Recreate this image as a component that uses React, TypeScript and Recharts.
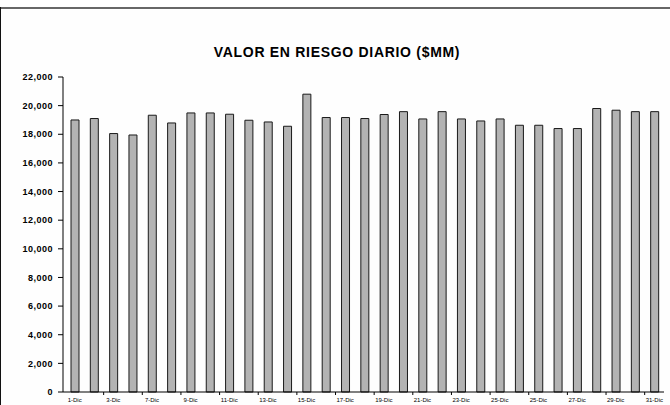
import React from 'react';
import { BarChart, Bar, XAxis, YAxis } from 'recharts';

// Daily value-at-risk, December ($MM)
const categories = [
  '1', '2', '3', '4', '5', '6', '7', '8', '9', '10', '11', '12', '13', '14', '15', '16',
  '17', '18', '19', '20', '21', '22', '23', '24', '25', '26', '27', '28', '29', '30', '31',
];
const values = [
  19000, 19100, 18050, 17950, 19330, 18790, 19490, 19490, 19400, 18980, 18860, 18560, 20800,
  19170, 19170, 19100, 19380, 19580, 19070, 19580, 19070, 18930, 19070, 18630, 18630, 18400,
  18400, 19800, 19680, 19580, 19580,
];
// Labels shown under every second category
const tickLabels = [
  '1-Dic', '3-Dic', '7-Dic', '9-Dic', '11-Dic', '13-Dic', '15-Dic', '17-Dic', '19-Dic',
  '21-Dic', '23-Dic', '25-Dic', '25-Dic', '27-Dic', '29-Dic', '31-Dic',
];
const yTicks = [0, 2000, 4000, 6000, 8000, 10000, 12000, 14000, 16000, 18000, 20000, 22000];
const title = 'VALOR EN RIESGO DIARIO ($MM)';

const data = categories.map((day, i) => ({ day, riesgo: values[i] }));

const W = 670;
const H = 405;
const MARGIN = { top: 77, right: 6, bottom: 0, left: 0 };
const Y_AXIS_W = 63;
const X_PAD_LEFT = 2;
const STEP = (W - MARGIN.right - Y_AXIS_W - X_PAD_LEFT) / categories.length;
const FONT = '"Liberation Sans", Arial, sans-serif';

const XTick = (props: any) => {
  const { x, y, index } = props;
  if (index % 2 === 0) {
    return (
      <text
        x={x}
        y={y + 10}
        textAnchor="middle"
        fontSize={6}
        fontFamily={FONT}
        fill="#000"
      >
        {tickLabels[index / 2]}
      </text>
    );
  }
  const bx = x + STEP / 2;
  return <line x1={bx} x2={bx} y1={y} y2={y + 3} stroke="#000" strokeWidth={1} />;
};

export default function App() {
  return (
    <div
      style={{
        position: 'fixed',
        left: 0,
        top: 0,
        width: W,
        height: H,
        overflow: 'hidden',
        background: '#fefefe',
      }}
    >
      {/* chart-area frame (top and left edges) and title */}
      <svg width={W} height={H} style={{ position: 'absolute', left: 0, top: 0 }}>
        <line x1={0} x2={W} y1={8} y2={8} stroke="#666" strokeWidth={2} />
        <line x1={0.5} x2={0.5} y1={7} y2={H} stroke="#111" strokeWidth={1} />
        <text
          x={337}
          y={57}
          textAnchor="middle"
          fontSize={14}
          fontWeight="bold"
          letterSpacing={0.7}
          fontFamily={FONT}
          fill="#000"
        >
          {title}
        </text>
      </svg>
      <div style={{ position: 'absolute', left: 0, top: 0 }}>
        <BarChart width={W} height={H} data={data} margin={MARGIN}>
          <XAxis
            dataKey="day"
            height={13}
            interval={0}
            tickLine={false}
            tickSize={0}
            tickMargin={0}
            axisLine={{ stroke: '#000', strokeWidth: 1 }}
            padding={{ left: X_PAD_LEFT, right: 0 }}
            tick={<XTick />}
          />
          <YAxis
            width={Y_AXIS_W}
            domain={[0, 22000]}
            ticks={yTicks}
            interval={0}
            tickSize={5}
            tickMargin={5}
            axisLine={{ stroke: '#000', strokeWidth: 1 }}
            tickLine={{ stroke: '#000', strokeWidth: 1 }}
            tickFormatter={(v: number) => v.toLocaleString('en-US')}
            tick={{ fontSize: 9, fontWeight: 'bold', fill: '#000', fontFamily: FONT, letterSpacing: 0.5 }}
          />
          <Bar
            dataKey="riesgo"
            fill="#b3b3b3"
            stroke="#1a1a1a"
            strokeWidth={1}
            barSize={8}
            isAnimationActive={false}
          />
        </BarChart>
      </div>
    </div>
  );
}
